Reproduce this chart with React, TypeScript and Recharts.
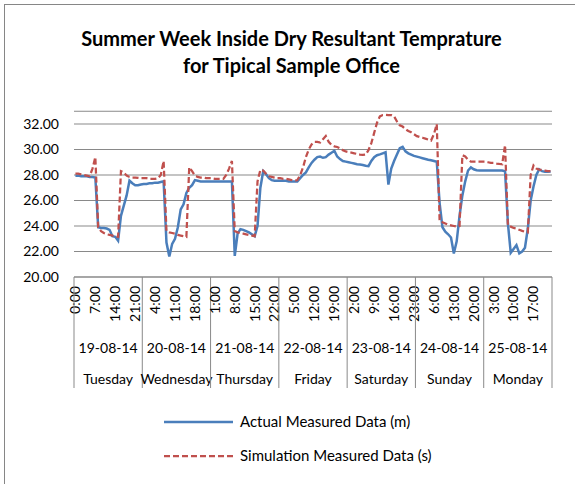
import React from 'react'
import { LineChart, Line, XAxis, YAxis, CartesianGrid } from 'recharts'

const HOURS = [
  '0:00', '1:00', '2:00', '3:00', '4:00', '5:00', '6:00', '7:00', '8:00', '9:00', '10:00', '11:00',
  '12:00', '13:00', '14:00', '15:00', '16:00', '17:00', '18:00', '19:00', '20:00', '21:00', '22:00', '23:00',
]
const DATES = ['19-08-14', '20-08-14', '21-08-14', '22-08-14', '23-08-14', '24-08-14', '25-08-14']
const DAYS = ['Tuesday', 'Wednesday', 'Thursday', 'Friday', 'Saturday', 'Sunday', 'Monday']
const Y_TICKS = [20, 22, 24, 26, 28, 30, 32]

// hourly readings, one row per day
const actual = [
  27.95, 27.95, 27.9, 27.9, 27.9, 27.85, 27.85, 27.8, 23.9, 23.85, 23.85, 23.8, 23.7, 23.2, 23.15, 22.85, 24.8, 25.6, 26.4, 27.55, 27.35, 27.2, 27.2, 27.25,
  27.3, 27.3, 27.35, 27.35, 27.4, 27.4, 27.45, 27.5, 22.7, 21.6, 22.6, 23.0, 23.9, 25.3, 25.7, 26.6, 27.0, 27.2, 27.6, 27.55, 27.5, 27.5, 27.5, 27.5,
  27.5, 27.5, 27.5, 27.5, 27.5, 27.5, 27.5, 27.5, 21.65, 23.4, 23.75, 23.7, 23.6, 23.5, 23.35, 23.2, 24.0, 27.0, 28.3, 28.05, 27.75, 27.6, 27.55, 27.55,
  27.55, 27.55, 27.55, 27.5, 27.5, 27.5, 27.5, 27.75, 28.0, 28.2, 28.6, 28.95, 29.2, 29.4, 29.45, 29.35, 29.4, 29.6, 29.75, 29.9, 29.45, 29.25, 29.1, 29.05,
  29.0, 28.95, 28.9, 28.85, 28.82, 28.78, 28.72, 28.7, 29.1, 29.4, 29.55, 29.62, 29.7, 29.78, 27.25, 28.5, 29.1, 29.6, 30.1, 30.2, 29.85, 29.7, 29.6, 29.5,
  29.44, 29.38, 29.32, 29.26, 29.2, 29.15, 29.1, 29.04, 25.8, 23.9, 23.55, 23.35, 23.1, 21.85, 22.8, 24.8, 26.4, 27.5, 28.35, 28.6, 28.45, 28.38, 28.35, 28.35,
  28.35, 28.35, 28.35, 28.35, 28.35, 28.35, 28.35, 28.3, 24.2, 21.9, 22.2, 22.5, 21.85, 22.0, 22.3, 23.8, 26.0, 27.1, 28.0, 28.45, 28.3, 28.25, 28.25, 28.28,
]

const simulated = [
  28.1, 28.1, 28.05, 28.0, 27.95, 27.9, 28.5, 29.4, 23.9, 23.6, 23.45, 23.35, 23.3, 23.25, 23.2, 23.15, 28.3, 28.2, 27.95, 27.85, 27.8, 27.8, 27.78, 27.75,
  27.75, 27.75, 27.7, 27.7, 27.7, 27.75, 28.0, 29.1, 23.6, 23.5, 23.45, 23.4, 23.3, 23.25, 23.2, 23.15, 28.6, 28.3, 27.95, 27.85, 27.8, 27.8, 27.75, 27.75,
  27.75, 27.7, 27.7, 27.7, 27.7, 28.0, 28.5, 29.1, 23.6, 23.5, 23.45, 23.4, 23.35, 23.3, 23.25, 23.2, 27.5, 28.4, 28.35, 28.1, 27.9, 27.85, 27.8, 27.75,
  27.75, 27.7, 27.7, 27.65, 27.6, 27.55, 27.6, 28.0, 28.6, 29.4, 30.0, 30.4, 30.6, 30.6, 30.55, 30.8, 31.05, 30.6, 30.35, 30.25, 30.2, 30.1, 29.95, 29.85,
  29.8, 29.75, 29.7, 29.65, 29.6, 29.57, 29.6, 29.95, 30.5, 31.3, 32.1, 32.6, 32.7, 32.72, 32.7, 32.7, 32.6, 32.2, 31.9, 31.8, 31.6, 31.45, 31.35, 31.2,
  31.05, 30.98, 30.92, 30.85, 30.78, 30.7, 31.2, 32.0, 24.4, 24.3, 24.2, 24.1, 24.05, 24.0, 23.95, 24.0, 29.55, 29.45, 29.2, 29.05, 29.05, 29.05, 29.05, 29.05,
  29.05, 29.0, 28.95, 28.95, 28.9, 28.87, 28.85, 30.35, 24.05, 23.95, 23.85, 23.8, 23.7, 23.62, 23.55, 23.5, 28.0, 28.75, 28.5, 28.42, 28.4, 28.35, 28.3, 28.3,
]

const data = actual.map((m, i) => ({
  key: `${DATES[Math.floor(i / 24)]} ${HOURS[i % 24]}`,
  actual: m,
  simulated: simulated[i],
}))

const FONT = 'Lato, "Open Sans", sans-serif'
const PLOT_W = 478
const HALF = PLOT_W / data.length / 2
const AXIS_GRAY = '#898989'

function MultiTick(props: any) {
  const { x, y, index } = props
  const hour = index % 24
  const day = Math.floor(index / 24)
  return (
    <g>
      {index % 7 === 0 && (
        <text
          transform={`translate(${x},${y + 9}) rotate(-90)`}
          textAnchor="end"
          dy="0.35em"
          fontSize={14}
          fontFamily={FONT}
          fill="#000"
        >
          {HOURS[hour]}
        </text>
      )}
      {hour === 0 && (
        <line x1={x - HALF} x2={x - HALF} y1={y} y2={y + 111} stroke={AXIS_GRAY} />
      )}
      {index === data.length - 1 && (
        <line x1={x + HALF} x2={x + HALF} y1={y} y2={y + 111} stroke={AXIS_GRAY} />
      )}
      {hour === 12 && (
        <>
          <text x={x - HALF} y={y + 71} dy="0.35em" textAnchor="middle" fontSize={14} fontFamily={FONT} fill="#000">
            {DATES[day]}
          </text>
          <text x={x - HALF} y={y + 102} dy="0.35em" textAnchor="middle" fontSize={14} fontFamily={FONT} fill="#000">
            {DAYS[day]}
          </text>
        </>
      )}
    </g>
  )
}

export default function App() {
  return (
    <div
      style={{
        position: 'absolute',
        left: 0,
        top: 0,
        width: 575,
        height: 484,
        overflow: 'hidden',
        background: '#fff',
        fontFamily: FONT,
      }}
    >
      <div style={{ position: 'absolute', left: 4, top: 4, width: 620, height: 620, border: '1px solid #868686' }} />
      <div
        style={{
          position: 'absolute',
          left: 4,
          top: 25,
          width: 575,
          textAlign: 'center',
          fontWeight: 700,
          fontSize: 20,
          lineHeight: '27px',
          color: '#000',
        }}
      >
        Summer Week Inside Dry Resultant Temprature
        <br />
        for Tipical Sample Office
      </div>
      <div style={{ position: 'absolute', left: 0, top: 0 }}>
        {/* domain runs to 33 so the simulated peak above 32 stays visible, only 20-32 are ticked */}
        <LineChart width={575} height={484} data={data} margin={{ top: 111.25, right: 23, bottom: 0, left: 0 }}>
          <CartesianGrid vertical={false} stroke={AXIS_GRAY} />
          <XAxis
            dataKey="key"
            type="category"
            interval={0}
            height={207}
            padding={{ left: HALF, right: HALF }}
            tickLine={false}
            tickSize={0}
            tickMargin={0}
            axisLine={{ stroke: AXIS_GRAY }}
            tick={(p: any) => <MultiTick {...p} />}
          />
          <YAxis
            type="number"
            domain={[20, 33]}
            ticks={Y_TICKS}
            interval={0}
            width={74}
            axisLine={false}
            tickLine={false}
            tickSize={0}
            tickMargin={15}
            tickFormatter={(v: number) => v.toFixed(2)}
            tick={{ fontSize: 14, fontFamily: FONT, fill: '#000' }}
          />
          <Line
            type="linear"
            dataKey="actual"
            stroke="#4A7EBB"
            strokeWidth={2.5}
            dot={false}
            isAnimationActive={false}
          />
          <Line
            type="linear"
            dataKey="simulated"
            stroke="#C0504D"
            strokeWidth={2.25}
            strokeDasharray="6 3"
            dot={false}
            isAnimationActive={false}
          />
        </LineChart>
      </div>
      <svg style={{ position: 'absolute', left: 0, top: 0 }} width={575} height={484}>
        <line x1={164} x2={233} y1={422} y2={422} stroke="#4A7EBB" strokeWidth={2.5} />
        <text x={240} y={422} dy="0.35em" fontSize={15} fontFamily={FONT} fill="#000">
          Actual Measured Data (m)
        </text>
        <line x1={164} x2={233} y1={456} y2={456} stroke="#C0504D" strokeWidth={2.25} strokeDasharray="6 3" />
        <text x={240} y={456} dy="0.35em" fontSize={15} fontFamily={FONT} fill="#000">
          Simulation Measured Data (s)
        </text>
      </svg>
    </div>
  )
}
